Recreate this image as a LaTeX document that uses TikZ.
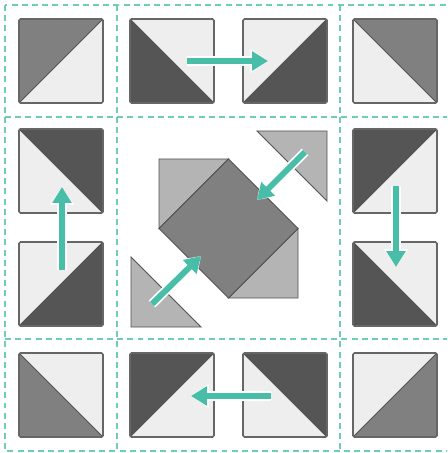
\documentclass[tikz,border=0pt]{standalone}
\usepackage{xcolor}
\usetikzlibrary{arrows.meta}

\definecolor{tileLight}{HTML}{EEEEEE}
\definecolor{tileMid}{HTML}{808080}
\definecolor{tileDark}{HTML}{555555}
\definecolor{hubLight}{HTML}{B4B4B4}
\definecolor{tileEdge}{HTML}{666666}
\definecolor{guideTeal}{RGB}{110,204,184}
\definecolor{moveTeal}{RGB}{72,190,168}

\begin{document}
\begin{tikzpicture}[x=0.2mm, y=-0.2mm,
  tileedge/.style={draw=tileEdge, line width=0.9pt, rounded corners=0.8pt},
  seam/.style={draw=tileEdge!80!black, line width=0.5pt},
  guide/.style={draw=guideTeal, line width=1pt, dash pattern=on 3.4pt off 2.4pt},
  move/.style={moveTeal, line width=3.4pt, -{Triangle[length=9pt,width=10.5pt]},
    preaction={draw=white, line width=5.4pt, -{Triangle[length=10pt,width=13pt]}}}]
  \useasboundingbox (0,0) rectangle (447,453);
  \clip (0,0) rectangle (447,453);

  % dashed cutting guides
  \draw[guide] (5,5) rectangle (452,451);
  \foreach \g in {117,340} \draw[guide] (\g,5) -- (\g,451);
  \foreach \g in {117,339} \draw[guide] (5,\g) -- (452,\g);

  % half-square triangle tiles (corner of the shaded half given by cx/cy)
  \foreach \x/\y/\cx/\cy/\shade in {
      19/19/0/0/tileMid, 130/19/0/1/tileDark, 243/19/1/1/tileDark, 353/19/1/0/tileMid,
      19/129/1/0/tileDark, 19/242/1/1/tileDark,
      353/129/0/0/tileDark, 353/242/0/1/tileDark,
      19/353/0/1/tileMid, 130/353/0/0/tileDark, 243/353/1/0/tileDark, 353/353/1/1/tileMid} {
    \fill[tileLight] (\x,\y) rectangle ++(84,84);
    \fill[\shade] (\x+84*\cx,\y+84*\cy) -- (\x+84-84*\cx,\y+84*\cy)
      -- (\x+84*\cx,\y+84-84*\cy) -- cycle;
    \draw[seam] (\x+84*\cx,\y+84-84*\cy) -- (\x+84-84*\cx,\y+84*\cy);
    \draw[tileedge] (\x,\y) rectangle ++(84,84);
  }

  % centre block
  \filldraw[fill=hubLight, seam] (159,159) -- (228.5,159) -- (159,228.5) -- cycle;
  \filldraw[fill=hubLight, seam] (298,228.5) -- (298,298) -- (228.5,298) -- cycle;
  \filldraw[fill=tileMid, seam] (228.5,159) -- (298,228.5) -- (228.5,298) -- (159,228.5) -- cycle;
  % corners moved out
  \filldraw[fill=hubLight, seam] (257,131) -- (327,131) -- (327,201) -- cycle;
  \filldraw[fill=hubLight, seam] (131,257) -- (131,327) -- (201,327) -- cycle;

  % arrow ends
  \coordinate (topA) at (187,61);   \coordinate (topB) at (268,61);
  \coordinate (leftA) at (62,270);  \coordinate (leftB) at (62,187);
  \coordinate (rightA) at (396,186); \coordinate (rightB) at (396,267);
  \coordinate (botA) at (271,396);  \coordinate (botB) at (191,396);
  \coordinate (neA) at (305,152);   \coordinate (neB) at (257,200);
  \coordinate (swA) at (152,304);   \coordinate (swB) at (201,256);

  \foreach \a/\b in {topA/topB, leftA/leftB, rightA/rightB, botA/botB, neA/neB, swA/swB}
    \draw[move] (\a) -- (\b);
\end{tikzpicture}
\end{document}
